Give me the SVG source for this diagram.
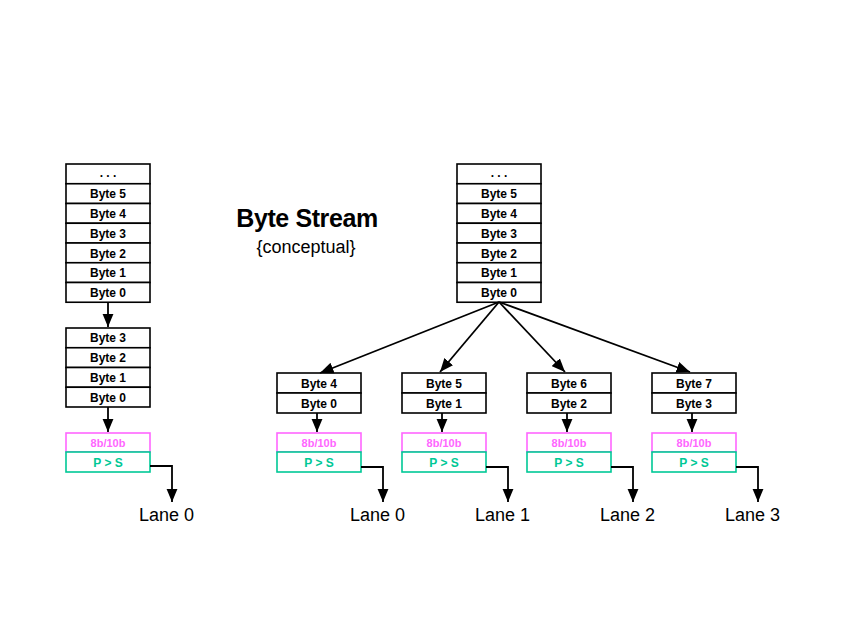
<svg xmlns="http://www.w3.org/2000/svg" width="850" height="638" viewBox="0 0 850 638">
<style>
.box{fill:#fff;stroke:#000;stroke-width:1.6}
.enc{fill:#fff;stroke:#ff66ff;stroke-width:1.6}
.ps{fill:#fff;stroke:#00c896;stroke-width:1.6}
.bt{font-family:"Liberation Sans",Arial,sans-serif;font-weight:bold;font-size:12px;text-anchor:middle;fill:#000}
.et{font-family:"Liberation Sans",Arial,sans-serif;font-weight:bold;font-size:11px;text-anchor:middle;fill:#ff66ff}
.pt{font-family:"Liberation Sans",Arial,sans-serif;font-weight:bold;font-size:12px;text-anchor:middle;fill:#00c896}
.lane{font-family:"Liberation Sans",Arial,sans-serif;font-size:18px;fill:#000}
.ln{fill:none;stroke:#000;stroke-width:1.8}
</style>
<defs>
<marker id="ah" viewBox="0 0 12 10" refX="12" refY="5" markerWidth="7.5" markerHeight="6.5" orient="auto" markerUnits="strokeWidth">
<path d="M0,0 L12,5 L0,10 z" fill="#000"/>
</marker>
</defs>
<rect width="850" height="638" fill="#fff"/>

<g id="title">
<text x="307" y="227" font-family="Liberation Sans,Arial,sans-serif" font-weight="bold" font-size="25" text-anchor="middle" letter-spacing="-0.4">Byte Stream</text>
<text x="306" y="253" font-family="Liberation Sans,Arial,sans-serif" font-size="18" text-anchor="middle">{conceptual}</text>
</g>

<g id="stream-left">
<rect class="box" x="66" y="164" width="84" height="19.75"/>
<rect class="box" x="66" y="183.75" width="84" height="19.75"/>
<rect class="box" x="66" y="203.5" width="84" height="19.75"/>
<rect class="box" x="66" y="223.25" width="84" height="19.75"/>
<rect class="box" x="66" y="243" width="84" height="19.75"/>
<rect class="box" x="66" y="262.75" width="84" height="19.75"/>
<rect class="box" x="66" y="282.5" width="84" height="19.75"/>
<text class="bt" x="108" y="177">. . .</text>
<text class="bt" x="108" y="198">Byte 5</text>
<text class="bt" x="108" y="218">Byte 4</text>
<text class="bt" x="108" y="238">Byte 3</text>
<text class="bt" x="108" y="257.5">Byte 2</text>
<text class="bt" x="108" y="277">Byte 1</text>
<text class="bt" x="108" y="297">Byte 0</text>
</g>

<g id="lane-left-bytes">
<rect class="box" x="66" y="328" width="84" height="19.75"/>
<rect class="box" x="66" y="347.75" width="84" height="19.75"/>
<rect class="box" x="66" y="367.5" width="84" height="19.75"/>
<rect class="box" x="66" y="387.25" width="84" height="19.75"/>
<text class="bt" x="108" y="342">Byte 3</text>
<text class="bt" x="108" y="362">Byte 2</text>
<text class="bt" x="108" y="381.5">Byte 1</text>
<text class="bt" x="108" y="401.5">Byte 0</text>
</g>

<g id="enc-left">
<rect class="enc" x="66" y="433" width="84" height="19"/>
<rect class="ps" x="66" y="452" width="84" height="20"/>
<text class="et" x="108" y="446.5">8b/10b</text>
<text class="pt" x="108" y="466.5">P &gt; S</text>
<text class="lane" x="139" y="521">Lane 0</text>
</g>

<g id="stream-right">
<rect class="box" x="457" y="164" width="84" height="19.75"/>
<rect class="box" x="457" y="183.75" width="84" height="19.75"/>
<rect class="box" x="457" y="203.5" width="84" height="19.75"/>
<rect class="box" x="457" y="223.25" width="84" height="19.75"/>
<rect class="box" x="457" y="243" width="84" height="19.75"/>
<rect class="box" x="457" y="262.75" width="84" height="19.75"/>
<rect class="box" x="457" y="282.5" width="84" height="19.75"/>
<text class="bt" x="499" y="177">. . .</text>
<text class="bt" x="499" y="198">Byte 5</text>
<text class="bt" x="499" y="218">Byte 4</text>
<text class="bt" x="499" y="238">Byte 3</text>
<text class="bt" x="499" y="257.5">Byte 2</text>
<text class="bt" x="499" y="277">Byte 1</text>
<text class="bt" x="499" y="297">Byte 0</text>
</g>

<g id="lane0">
<rect class="box" x="277" y="373" width="84" height="20"/>
<rect class="box" x="277" y="393" width="84" height="20"/>
<text class="bt" x="319" y="387.5">Byte 4</text>
<text class="bt" x="319" y="407.5">Byte 0</text>
<rect class="enc" x="277" y="433" width="84" height="19"/>
<rect class="ps" x="277" y="452" width="84" height="20"/>
<text class="et" x="319" y="446.5">8b/10b</text>
<text class="pt" x="319" y="466.5">P &gt; S</text>
<text class="lane" x="350" y="521">Lane 0</text>
</g>

<g id="lane1">
<rect class="box" x="402" y="373" width="84" height="20"/>
<rect class="box" x="402" y="393" width="84" height="20"/>
<text class="bt" x="444" y="387.5">Byte 5</text>
<text class="bt" x="444" y="407.5">Byte 1</text>
<rect class="enc" x="402" y="433" width="84" height="19"/>
<rect class="ps" x="402" y="452" width="84" height="20"/>
<text class="et" x="444" y="446.5">8b/10b</text>
<text class="pt" x="444" y="466.5">P &gt; S</text>
<text class="lane" x="475" y="521">Lane 1</text>
</g>

<g id="lane2">
<rect class="box" x="527" y="373" width="84" height="20"/>
<rect class="box" x="527" y="393" width="84" height="20"/>
<text class="bt" x="569" y="387.5">Byte 6</text>
<text class="bt" x="569" y="407.5">Byte 2</text>
<rect class="enc" x="527" y="433" width="84" height="19"/>
<rect class="ps" x="527" y="452" width="84" height="20"/>
<text class="et" x="569" y="446.5">8b/10b</text>
<text class="pt" x="569" y="466.5">P &gt; S</text>
<text class="lane" x="600" y="521">Lane 2</text>
</g>

<g id="lane3">
<rect class="box" x="652" y="373" width="84" height="20"/>
<rect class="box" x="652" y="393" width="84" height="20"/>
<text class="bt" x="694" y="387.5">Byte 7</text>
<text class="bt" x="694" y="407.5">Byte 3</text>
<rect class="enc" x="652" y="433" width="84" height="19"/>
<rect class="ps" x="652" y="452" width="84" height="20"/>
<text class="et" x="694" y="446.5">8b/10b</text>
<text class="pt" x="694" y="466.5">P &gt; S</text>
<text class="lane" x="725" y="521">Lane 3</text>
</g>

<g id="connectors">
<path class="ln" d="M108,302 V327" marker-end="url(#ah)"/>
<path class="ln" d="M108,407 V432" marker-end="url(#ah)"/>
<path class="ln" d="M150,466 H172 V502" marker-end="url(#ah)"/>

<path class="ln" d="M499,302 L320,373" marker-end="url(#ah)"/>
<path class="ln" d="M499,302 L440,372" marker-end="url(#ah)"/>
<path class="ln" d="M499,302 L565,372" marker-end="url(#ah)"/>
<path class="ln" d="M499,302 L690,372" marker-end="url(#ah)"/>

<path class="ln" d="M317,413 V432" marker-end="url(#ah)"/>
<path class="ln" d="M442,413 V432" marker-end="url(#ah)"/>
<path class="ln" d="M567,413 V432" marker-end="url(#ah)"/>
<path class="ln" d="M692,413 V432" marker-end="url(#ah)"/>

<path class="ln" d="M361,467 H383 V502" marker-end="url(#ah)"/>
<path class="ln" d="M486,467 H508 V502" marker-end="url(#ah)"/>
<path class="ln" d="M611,467 H633 V502" marker-end="url(#ah)"/>
<path class="ln" d="M736,467 H758 V502" marker-end="url(#ah)"/>
</g>
</svg>
